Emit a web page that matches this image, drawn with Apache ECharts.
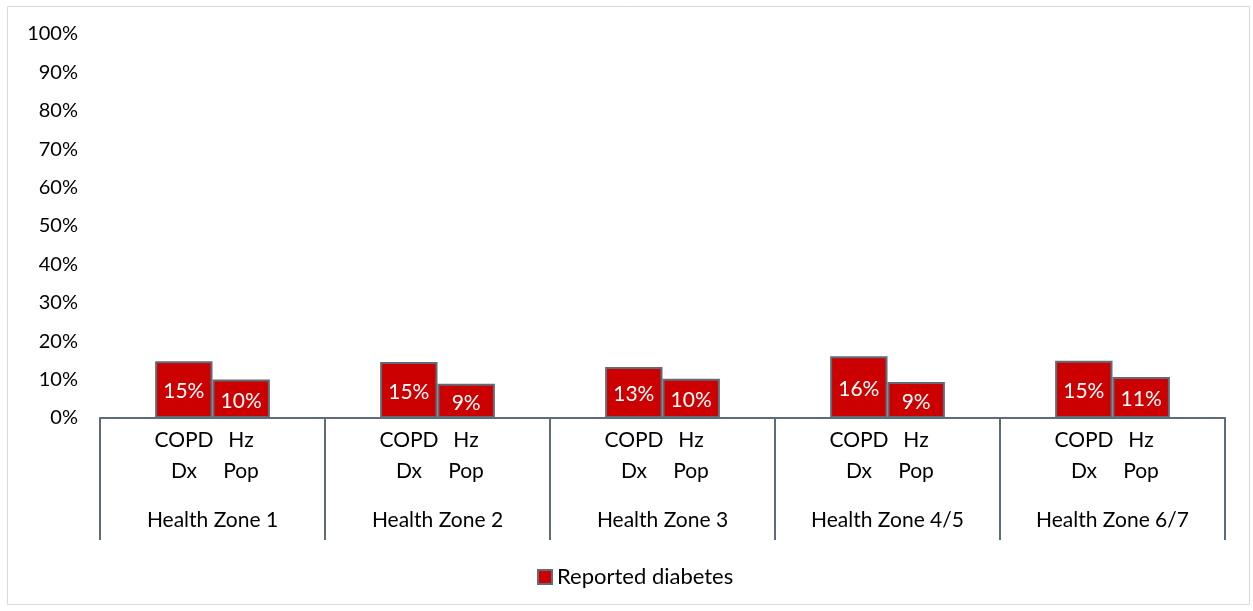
<!DOCTYPE html>
<html>
<head>
<meta charset="utf-8">
<script src="https://cdn.jsdelivr.net/npm/echarts@6/dist/echarts.min.js"></script>
<style>
  html, body { margin: 0; padding: 0; background: #ffffff; }
  #chart { width: 1253px; height: 611px; }
</style>
</head>
<body>
<div id="chart"></div>
<script>
// Health zones along the category axis
const zones = ['Health Zone 1', 'Health Zone 2', 'Health Zone 3', 'Health Zone 4/5', 'Health Zone 6/7'];
// Sub-labels under each pair of bars (two lines each)
const subTop = ['COPD', 'Hz'];
const subBottom = ['Dx', 'Pop'];
// Share reporting diabetes: COPD diagnosed vs. health-zone population
const copdDx = [0.148, 0.146, 0.133, 0.161, 0.149];
const hzPop = [0.100, 0.089, 0.102, 0.094, 0.107];
// Y-axis range and step
const yMin = 0, yMax = 1, yStep = 0.1;
const seriesName = 'Reported diabetes';

const FONT = 'Lato';
const AXIS_GREY = '#5f6b77';
const BAR_RED = '#cc0000';

const chart = echarts.init(document.getElementById('chart'), null, { renderer: 'canvas' });

const pct = v => Math.round(v * 100) + '%';

const barSeries = data => ({
  name: seriesName,
  type: 'bar',
  data: data,
  barGap: '0%',
  barCategoryGap: '49%',
  itemStyle: { color: BAR_RED, borderColor: AXIS_GREY, borderWidth: 2 },
  label: {
    show: true,
    position: 'inside',
    offset: [0, 2],
    color: '#ffffff',
    fontFamily: FONT,
    fontSize: 21,
    formatter: p => pct(p.value)
  },
  emphasis: { disabled: true },
  animation: false
});

chart.setOption({
  animation: false,
  textStyle: { fontFamily: FONT },
  graphic: [{
    type: 'rect',
    shape: { x: 7.5, y: 6.5, width: 1242, height: 598 },
    style: { fill: 'none', stroke: '#d9d9d9', lineWidth: 1 },
    silent: true
  }],
  grid: { left: 100, right: 28, top: 34, bottom: 193, containLabel: false },
  legend: {
    data: [{ name: seriesName }],
    left: 537,
    top: 566,
    padding: 0,
    icon: 'rect',
    itemWidth: 14,
    itemHeight: 14,
    textStyle: { fontFamily: FONT, fontSize: 22, color: '#000000' },
    selectedMode: false
  },
  xAxis: {
    type: 'category',
    data: zones,
    boundaryGap: true,
    axisLine: { show: true, lineStyle: { color: AXIS_GREY, width: 2 } },
    axisTick: { show: true, interval: 0, length: 122, lineStyle: { color: AXIS_GREY, width: 2 } },
    axisLabel: {
      interval: 0,
      margin: 7,
      color: '#000000',
      fontFamily: FONT,
      fontSize: 21,
      formatter: z =>
        '{a|' + subTop[0] + '}{a|' + subTop[1] + '}\n' +
        '{a|' + subBottom[0] + '}{a|' + subBottom[1] + '}\n' +
        '{s| }\n{z|' + z + '}',
      rich: {
        a: { width: 57, align: 'center', lineHeight: 31, fontSize: 21, fontFamily: FONT, color: '#000' },
        s: { lineHeight: 18, fontSize: 10 },
        z: { lineHeight: 31, fontSize: 21, fontFamily: FONT, color: '#000' }
      }
    },
    splitLine: { show: false }
  },
  yAxis: {
    type: 'value',
    min: yMin,
    max: yMax,
    interval: yStep,
    axisLine: { show: false },
    axisTick: { show: false },
    splitLine: { show: false },
    axisLabel: {
      margin: 22,
      color: '#000000',
      fontFamily: FONT,
      fontSize: 20,
      formatter: v => pct(v)
    }
  },
  series: [barSeries(copdDx), barSeries(hzPop)]
});
</script>
</body>
</html>
